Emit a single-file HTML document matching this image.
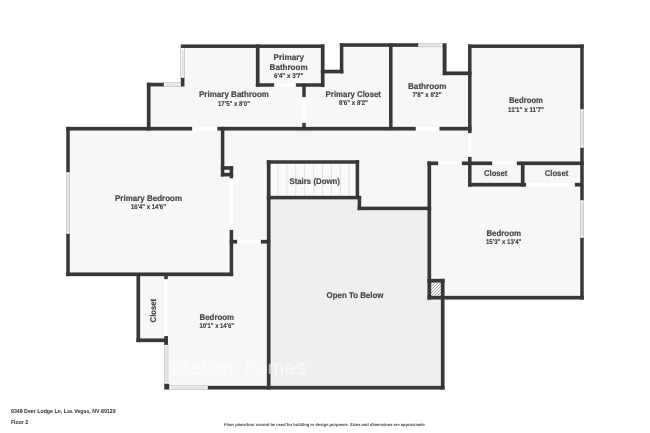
<!DOCTYPE html>
<html><head><meta charset="utf-8"><title>Floor 2</title>
<style>
html,body{margin:0;padding:0;background:#fff;}
body{width:650px;height:433px;overflow:hidden;font-family:"Liberation Sans",sans-serif;}
svg{display:block;}
</style></head><body>
<svg width="650" height="433" viewBox="0 0 650 433" text-rendering="geometricPrecision">
<rect x="0" y="0" width="650" height="433" fill="#ffffff"/>
<rect x="181.00" y="45.00" width="143.00" height="85.00" fill="#f7f7f7" />
<rect x="147.00" y="83.00" width="37.00" height="47.00" fill="#f7f7f7" />
<rect x="321.00" y="70.00" width="22.00" height="60.00" fill="#f7f7f7" />
<rect x="340.00" y="44.00" width="106.00" height="86.00" fill="#f7f7f7" />
<rect x="443.00" y="72.00" width="28.00" height="58.00" fill="#f7f7f7" />
<rect x="468.00" y="45.00" width="115.00" height="120.00" fill="#f7f7f7" />
<rect x="221.00" y="127.00" width="250.00" height="38.00" fill="#f7f7f7" />
<rect x="224.00" y="130.00" width="46.00" height="146.00" fill="#f7f7f7" />
<rect x="359.00" y="160.00" width="72.00" height="50.00" fill="#f7f7f7" />
<rect x="66.50" y="127.00" width="166.50" height="149.00" fill="#f7f7f7" />
<rect x="428.00" y="162.00" width="155.00" height="137.00" fill="#f7f7f7" />
<rect x="137.00" y="274.00" width="133.00" height="67.00" fill="#f7f7f7" />
<rect x="165.00" y="274.00" width="105.00" height="115.00" fill="#f7f7f7" />
<rect x="267.00" y="160.40" width="92.00" height="38.60" fill="#fafafa" />
<rect x="268.00" y="197.00" width="93.00" height="192.00" fill="#efefef" />
<rect x="359.00" y="208.00" width="72.00" height="181.00" fill="#efefef" />
<rect x="428.00" y="297.00" width="16.00" height="92.00" fill="#efefef" />
<line x1="278.00" y1="163.6" x2="278.00" y2="196" stroke="#d4d4d4" stroke-width="0.6"/>
<line x1="286.90" y1="163.6" x2="286.90" y2="196" stroke="#d4d4d4" stroke-width="0.6"/>
<line x1="295.80" y1="163.6" x2="295.80" y2="196" stroke="#d4d4d4" stroke-width="0.6"/>
<line x1="304.70" y1="163.6" x2="304.70" y2="196" stroke="#d4d4d4" stroke-width="0.6"/>
<line x1="313.60" y1="163.6" x2="313.60" y2="196" stroke="#d4d4d4" stroke-width="0.6"/>
<line x1="322.50" y1="163.6" x2="322.50" y2="196" stroke="#d4d4d4" stroke-width="0.6"/>
<line x1="331.40" y1="163.6" x2="331.40" y2="196" stroke="#d4d4d4" stroke-width="0.6"/>
<line x1="340.30" y1="163.6" x2="340.30" y2="196" stroke="#d4d4d4" stroke-width="0.6"/>
<line x1="349.20" y1="163.6" x2="349.20" y2="196" stroke="#d4d4d4" stroke-width="0.6"/>
<rect x="180.75" y="47.80" width="3.80" height="30.20" fill="#fdfdfd" stroke="#9a9a9a" stroke-width="0.45"/>
<rect x="181.89" y="50.40" width="1.52" height="25.00" fill="#e6e6e6" />
<line x1="181.89" y1="50.40" x2="181.89" y2="75.40" stroke="#cfcfcf" stroke-width="0.35"/>
<line x1="183.41" y1="50.40" x2="183.41" y2="75.40" stroke="#cfcfcf" stroke-width="0.35"/>
<line x1="180.75" y1="50.40" x2="184.55" y2="50.40" stroke="#cfcfcf" stroke-width="0.35"/>
<line x1="180.75" y1="75.40" x2="184.55" y2="75.40" stroke="#cfcfcf" stroke-width="0.35"/>
<rect x="163.60" y="82.75" width="17.40" height="3.70" fill="#fdfdfd" stroke="#9a9a9a" stroke-width="0.45"/>
<rect x="166.20" y="83.86" width="12.20" height="1.48" fill="#e6e6e6" />
<line x1="166.20" y1="83.86" x2="178.40" y2="83.86" stroke="#cfcfcf" stroke-width="0.35"/>
<line x1="166.20" y1="85.34" x2="178.40" y2="85.34" stroke="#cfcfcf" stroke-width="0.35"/>
<line x1="166.20" y1="82.75" x2="166.20" y2="86.45" stroke="#cfcfcf" stroke-width="0.35"/>
<line x1="178.40" y1="82.75" x2="178.40" y2="86.45" stroke="#cfcfcf" stroke-width="0.35"/>
<rect x="418.00" y="43.35" width="24.80" height="3.50" fill="#fdfdfd" stroke="#9a9a9a" stroke-width="0.45"/>
<rect x="420.60" y="44.40" width="19.60" height="1.40" fill="#e6e6e6" />
<line x1="420.60" y1="44.40" x2="440.20" y2="44.40" stroke="#cfcfcf" stroke-width="0.35"/>
<line x1="420.60" y1="45.80" x2="440.20" y2="45.80" stroke="#cfcfcf" stroke-width="0.35"/>
<line x1="420.60" y1="43.35" x2="420.60" y2="46.85" stroke="#cfcfcf" stroke-width="0.35"/>
<line x1="440.20" y1="43.35" x2="440.20" y2="46.85" stroke="#cfcfcf" stroke-width="0.35"/>
<rect x="580.25" y="109.00" width="3.50" height="39.00" fill="#fdfdfd" stroke="#9a9a9a" stroke-width="0.45"/>
<rect x="581.30" y="111.60" width="1.40" height="33.80" fill="#e6e6e6" />
<line x1="581.30" y1="111.60" x2="581.30" y2="145.40" stroke="#cfcfcf" stroke-width="0.35"/>
<line x1="582.70" y1="111.60" x2="582.70" y2="145.40" stroke="#cfcfcf" stroke-width="0.35"/>
<line x1="580.25" y1="111.60" x2="583.75" y2="111.60" stroke="#cfcfcf" stroke-width="0.35"/>
<line x1="580.25" y1="145.40" x2="583.75" y2="145.40" stroke="#cfcfcf" stroke-width="0.35"/>
<rect x="580.25" y="200.00" width="3.50" height="38.00" fill="#fdfdfd" stroke="#9a9a9a" stroke-width="0.45"/>
<rect x="581.30" y="202.60" width="1.40" height="32.80" fill="#e6e6e6" />
<line x1="581.30" y1="202.60" x2="581.30" y2="235.40" stroke="#cfcfcf" stroke-width="0.35"/>
<line x1="582.70" y1="202.60" x2="582.70" y2="235.40" stroke="#cfcfcf" stroke-width="0.35"/>
<line x1="580.25" y1="202.60" x2="583.75" y2="202.60" stroke="#cfcfcf" stroke-width="0.35"/>
<line x1="580.25" y1="235.40" x2="583.75" y2="235.40" stroke="#cfcfcf" stroke-width="0.35"/>
<rect x="66.25" y="172.00" width="3.50" height="62.00" fill="#fdfdfd" stroke="#9a9a9a" stroke-width="0.45"/>
<rect x="67.30" y="174.60" width="1.40" height="56.80" fill="#e6e6e6" />
<line x1="67.30" y1="174.60" x2="67.30" y2="231.40" stroke="#cfcfcf" stroke-width="0.35"/>
<line x1="68.70" y1="174.60" x2="68.70" y2="231.40" stroke="#cfcfcf" stroke-width="0.35"/>
<line x1="66.25" y1="174.60" x2="69.75" y2="174.60" stroke="#cfcfcf" stroke-width="0.35"/>
<line x1="66.25" y1="231.40" x2="69.75" y2="231.40" stroke="#cfcfcf" stroke-width="0.35"/>
<rect x="164.25" y="344.70" width="3.70" height="39.30" fill="#fdfdfd" stroke="#9a9a9a" stroke-width="0.45"/>
<rect x="165.36" y="347.30" width="1.48" height="34.10" fill="#e6e6e6" />
<line x1="165.36" y1="347.30" x2="165.36" y2="381.40" stroke="#cfcfcf" stroke-width="0.35"/>
<line x1="166.84" y1="347.30" x2="166.84" y2="381.40" stroke="#cfcfcf" stroke-width="0.35"/>
<line x1="164.25" y1="347.30" x2="167.95" y2="347.30" stroke="#cfcfcf" stroke-width="0.35"/>
<line x1="164.25" y1="381.40" x2="167.95" y2="381.40" stroke="#cfcfcf" stroke-width="0.35"/>
<rect x="169.00" y="385.85" width="39.00" height="3.70" fill="#fdfdfd" stroke="#9a9a9a" stroke-width="0.45"/>
<rect x="171.60" y="386.96" width="33.80" height="1.48" fill="#e6e6e6" />
<line x1="171.60" y1="386.96" x2="205.40" y2="386.96" stroke="#cfcfcf" stroke-width="0.35"/>
<line x1="171.60" y1="388.44" x2="205.40" y2="388.44" stroke="#cfcfcf" stroke-width="0.35"/>
<line x1="171.60" y1="385.85" x2="171.60" y2="389.55" stroke="#cfcfcf" stroke-width="0.35"/>
<line x1="205.40" y1="385.85" x2="205.40" y2="389.55" stroke="#cfcfcf" stroke-width="0.35"/>
<rect x="192.00" y="127.00" width="25.50" height="3.40" fill="#ffffff" />
<rect x="415.60" y="127.00" width="24.00" height="3.40" fill="#ffffff" />
<rect x="274.00" y="83.40" width="22.00" height="3.20" fill="#ffffff" />
<rect x="302.40" y="97.00" width="3.20" height="26.00" fill="#ffffff" />
<rect x="468.20" y="133.00" width="3.20" height="24.00" fill="#ffffff" />
<rect x="438.00" y="161.60" width="24.00" height="3.40" fill="#ffffff" />
<rect x="492.00" y="161.60" width="25.00" height="3.40" fill="#ffffff" />
<rect x="526.00" y="183.00" width="49.00" height="3.40" fill="#ffffff" />
<rect x="230.00" y="178.40" width="3.00" height="51.60" fill="#ffffff" />
<rect x="237.00" y="240.00" width="24.00" height="3.40" fill="#ffffff" />
<rect x="164.40" y="279.00" width="3.20" height="58.00" fill="#ffffff" />
<defs><clipPath id="hc"><rect x="431" y="282" width="10.3" height="14"/></clipPath></defs>
<rect x="431.00" y="282.00" width="10.30" height="14.00" fill="#fbfbfb" />
<g stroke="#858585" stroke-width="0.8" clip-path="url(#hc)">
<line x1="415.80" y1="296" x2="429.40" y2="282.4"/>
<line x1="418.85" y1="296" x2="432.45" y2="282.4"/>
<line x1="421.90" y1="296" x2="435.50" y2="282.4"/>
<line x1="424.95" y1="296" x2="438.55" y2="282.4"/>
<line x1="428.00" y1="296" x2="441.60" y2="282.4"/>
<line x1="431.05" y1="296" x2="444.65" y2="282.4"/>
<line x1="434.10" y1="296" x2="447.70" y2="282.4"/>
<line x1="437.15" y1="296" x2="450.75" y2="282.4"/>
<line x1="440.20" y1="296" x2="453.80" y2="282.4"/>
</g>
<rect x="180.85" y="44.45" width="143.30" height="3.50" fill="#373737" />
<rect x="320.85" y="44.45" width="3.70" height="42.70" fill="#373737" />
<rect x="320.85" y="69.75" width="22.50" height="3.60" fill="#373737" />
<rect x="339.85" y="43.25" width="3.50" height="30.10" fill="#373737" />
<rect x="339.85" y="43.25" width="78.30" height="3.60" fill="#373737" />
<rect x="442.65" y="43.25" width="3.90" height="31.90" fill="#373737" />
<rect x="442.85" y="71.45" width="28.70" height="3.70" fill="#373737" />
<rect x="468.05" y="44.45" width="3.50" height="88.70" fill="#373737" />
<rect x="468.05" y="156.85" width="3.50" height="29.70" fill="#373737" />
<rect x="468.05" y="44.45" width="115.70" height="3.50" fill="#373737" />
<rect x="580.25" y="44.45" width="3.50" height="64.70" fill="#373737" />
<rect x="580.25" y="147.85" width="3.50" height="52.30" fill="#373737" />
<rect x="580.25" y="237.85" width="3.50" height="61.70" fill="#373737" />
<rect x="427.45" y="295.85" width="156.30" height="3.70" fill="#373737" />
<rect x="180.85" y="77.85" width="3.60" height="8.60" fill="#373737" />
<rect x="146.85" y="82.75" width="16.90" height="3.70" fill="#373737" />
<rect x="146.85" y="82.75" width="3.70" height="47.80" fill="#373737" />
<rect x="66.25" y="126.85" width="125.90" height="3.70" fill="#373737" />
<rect x="217.35" y="126.85" width="198.40" height="3.70" fill="#373737" />
<rect x="439.45" y="126.85" width="32.10" height="3.70" fill="#373737" />
<rect x="255.85" y="44.45" width="3.70" height="42.30" fill="#373737" />
<rect x="255.85" y="83.25" width="18.30" height="3.50" fill="#373737" />
<rect x="295.85" y="83.25" width="28.30" height="3.50" fill="#373737" />
<rect x="302.25" y="85.85" width="3.50" height="11.30" fill="#373737" />
<rect x="302.25" y="122.85" width="3.50" height="7.30" fill="#373737" />
<rect x="389.05" y="43.25" width="3.50" height="86.90" fill="#373737" />
<rect x="66.25" y="126.85" width="3.50" height="45.30" fill="#373737" />
<rect x="66.25" y="233.85" width="3.50" height="42.30" fill="#373737" />
<rect x="66.25" y="272.45" width="166.90" height="3.70" fill="#373737" />
<rect x="220.85" y="126.85" width="3.50" height="49.60" fill="#373737" />
<rect x="220.85" y="166.15" width="12.30" height="3.60" fill="#373737" />
<rect x="220.85" y="172.85" width="12.30" height="3.60" fill="#373737" />
<rect x="229.65" y="166.15" width="3.50" height="12.20" fill="#373737" />
<rect x="229.65" y="229.85" width="3.50" height="46.30" fill="#373737" />
<rect x="229.65" y="239.85" width="7.50" height="3.70" fill="#373737" />
<rect x="260.85" y="239.85" width="9.30" height="3.70" fill="#373737" />
<rect x="266.85" y="160.25" width="3.70" height="229.30" fill="#373737" />
<rect x="266.85" y="160.25" width="92.30" height="3.50" fill="#373737" />
<rect x="355.65" y="160.25" width="3.50" height="38.90" fill="#373737" />
<rect x="266.85" y="195.85" width="94.30" height="3.50" fill="#373737" />
<rect x="357.65" y="195.85" width="3.50" height="14.30" fill="#373737" />
<rect x="357.65" y="206.65" width="73.50" height="3.50" fill="#373737" />
<rect x="427.45" y="161.45" width="3.70" height="138.10" fill="#373737" />
<rect x="427.45" y="161.45" width="10.70" height="3.70" fill="#373737" />
<rect x="461.85" y="161.45" width="30.30" height="3.70" fill="#373737" />
<rect x="516.85" y="161.45" width="66.90" height="3.70" fill="#373737" />
<rect x="468.05" y="182.85" width="58.10" height="3.70" fill="#373737" />
<rect x="520.85" y="161.85" width="3.70" height="24.70" fill="#373737" />
<rect x="574.85" y="182.85" width="6.30" height="3.70" fill="#373737" />
<rect x="427.45" y="278.85" width="17.10" height="3.70" fill="#373737" />
<rect x="440.85" y="278.85" width="3.70" height="110.70" fill="#373737" />
<rect x="207.85" y="385.85" width="236.70" height="3.70" fill="#373737" />
<rect x="164.25" y="383.85" width="4.90" height="5.70" fill="#373737" />
<rect x="136.45" y="273.85" width="3.70" height="68.30" fill="#373737" />
<rect x="136.45" y="338.45" width="31.30" height="3.70" fill="#373737" />
<rect x="164.25" y="273.85" width="3.50" height="5.30" fill="#373737" />
<rect x="164.25" y="336.05" width="3.70" height="8.80" fill="#373737" />
<g font-family="Liberation Sans, sans-serif" font-weight="bold" fill="#454545" stroke="#454545" stroke-width="0.18" opacity="0.999">
<text x="288.80" y="60.00" font-size="8.4" text-anchor="middle" textLength="30.40" lengthAdjust="spacingAndGlyphs" >Primary</text>
<text x="288.60" y="69.80" font-size="8.4" text-anchor="middle" textLength="38.00" lengthAdjust="spacingAndGlyphs" >Bathroom</text>
<text x="288.70" y="78.00" font-size="6.8" text-anchor="middle" textLength="29.40" lengthAdjust="spacingAndGlyphs"  fill="#3c3c3c" stroke="#3c3c3c" stroke-width="0.12">6'4&quot; x 3'7&quot;</text>
<text x="234.00" y="97.00" font-size="8.4" text-anchor="middle" textLength="70.00" lengthAdjust="spacingAndGlyphs" >Primary Bathroom</text>
<text x="234.00" y="106.00" font-size="6.8" text-anchor="middle" textLength="32.00" lengthAdjust="spacingAndGlyphs"  fill="#3c3c3c" stroke="#3c3c3c" stroke-width="0.12">17'5&quot; x 8'0&quot;</text>
<text x="353.30" y="97.00" font-size="8.4" text-anchor="middle" textLength="55.40" lengthAdjust="spacingAndGlyphs" >Primary Closet</text>
<text x="353.50" y="105.40" font-size="6.8" text-anchor="middle" textLength="29.00" lengthAdjust="spacingAndGlyphs"  fill="#3c3c3c" stroke="#3c3c3c" stroke-width="0.12">8'6&quot; x 8'2&quot;</text>
<text x="427.20" y="88.60" font-size="8.4" text-anchor="middle" textLength="38.40" lengthAdjust="spacingAndGlyphs" >Bathroom</text>
<text x="427.00" y="96.80" font-size="6.8" text-anchor="middle" textLength="29.20" lengthAdjust="spacingAndGlyphs"  fill="#3c3c3c" stroke="#3c3c3c" stroke-width="0.12">7'8&quot; x 8'2&quot;</text>
<text x="526.00" y="102.80" font-size="8.4" text-anchor="middle" textLength="34.00" lengthAdjust="spacingAndGlyphs" >Bedroom</text>
<text x="526.00" y="111.60" font-size="6.8" text-anchor="middle" textLength="36.00" lengthAdjust="spacingAndGlyphs"  fill="#3c3c3c" stroke="#3c3c3c" stroke-width="0.12">11'1&quot; x 11'7&quot;</text>
<text x="148.50" y="200.60" font-size="8.4" text-anchor="middle" textLength="67.00" lengthAdjust="spacingAndGlyphs" >Primary Bedroom</text>
<text x="148.50" y="209.00" font-size="6.8" text-anchor="middle" textLength="35.00" lengthAdjust="spacingAndGlyphs"  fill="#3c3c3c" stroke="#3c3c3c" stroke-width="0.12">16'4&quot; x 14'6&quot;</text>
<text x="314.70" y="183.60" font-size="8.4" text-anchor="middle" textLength="50.60" lengthAdjust="spacingAndGlyphs" >Stairs (Down)</text>
<text x="495.70" y="176.00" font-size="8.4" text-anchor="middle" textLength="23.40" lengthAdjust="spacingAndGlyphs" >Closet</text>
<text x="556.50" y="176.00" font-size="8.4" text-anchor="middle" textLength="23.40" lengthAdjust="spacingAndGlyphs" >Closet</text>
<text x="503.70" y="235.60" font-size="8.4" text-anchor="middle" textLength="34.60" lengthAdjust="spacingAndGlyphs" >Bedroom</text>
<text x="503.70" y="244.00" font-size="6.8" text-anchor="middle" textLength="35.40" lengthAdjust="spacingAndGlyphs"  fill="#3c3c3c" stroke="#3c3c3c" stroke-width="0.12">15'3&quot; x 13'4&quot;</text>
<text x="355.00" y="298.00" font-size="8.4" text-anchor="middle" textLength="56.80" lengthAdjust="spacingAndGlyphs" >Open To Below</text>
<text x="216.80" y="320.00" font-size="8.4" text-anchor="middle" textLength="34.40" lengthAdjust="spacingAndGlyphs" >Bedroom</text>
<text x="216.80" y="328.00" font-size="6.8" text-anchor="middle" textLength="34.60" lengthAdjust="spacingAndGlyphs"  fill="#3c3c3c" stroke="#3c3c3c" stroke-width="0.12">10'1&quot; x 14'6&quot;</text>
<text transform="translate(156.2,310.7) rotate(-90)" font-size="8.4" text-anchor="middle" textLength="23.4" lengthAdjust="spacingAndGlyphs">Closet</text>
<text x="11" y="413.2" font-size="5.7" textLength="104.6" lengthAdjust="spacingAndGlyphs" fill="#333" stroke="none">9348 Deer Lodge Ln, Las Vegas, NV 89129</text>
<text x="11" y="424.2" font-size="5.7" textLength="17" lengthAdjust="spacingAndGlyphs" fill="#333" stroke="none">Floor 2</text>
<text x="224" y="426" font-size="4.2" textLength="202" lengthAdjust="spacingAndGlyphs" fill="#444" stroke="none">Floor plans/tour cannot be used for building or design purposes. Sizes and dimensions are approximate.</text>
</g>
<filter id="idf" x="0" y="0" width="650" height="433" filterUnits="userSpaceOnUse"><feOffset dx="0" dy="0"/></filter><g font-family="Liberation Sans, sans-serif" fill="#ffffff" opacity="0.6" filter="url(#idf)"><text x="169.6" y="374.3" font-size="19.5" textLength="63.6" lengthAdjust="spacingAndGlyphs" stroke="#fff" stroke-width="0.6">vitation</text><text x="245" y="374.3" font-size="19.5" textLength="60.8" lengthAdjust="spacingAndGlyphs" stroke="#fff" stroke-width="0.05">homes</text></g>
</svg>
</body></html>
